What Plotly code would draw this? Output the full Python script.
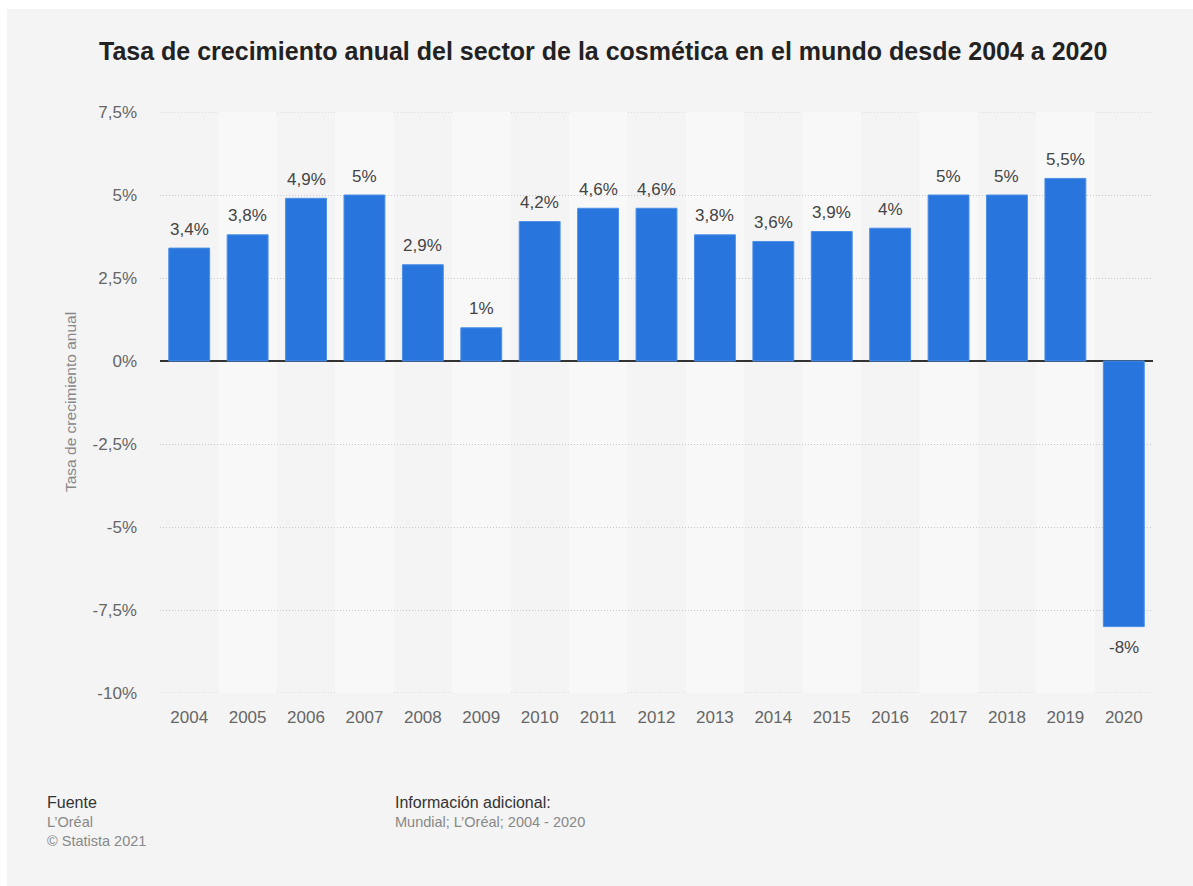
import plotly.graph_objects as go

years = ["2004", "2005", "2006", "2007", "2008", "2009", "2010", "2011", "2012",
         "2013", "2014", "2015", "2016", "2017", "2018", "2019", "2020"]
growth = [3.4, 3.8, 4.9, 5.0, 2.9, 1.0, 4.2, 4.6, 4.6, 3.8, 3.6, 3.9, 4.0, 5.0, 5.0, 5.5, -8.0]
y_tickvals = [-10, -7.5, -5, -2.5, 0, 2.5, 5, 7.5]
y_ticktext = ["-10%", "-7,5%", "-5%", "-2,5%", "0%", "2,5%", "5%", "7,5%"]
Y_MIN, Y_MAX = -10, 7.5

def fmt(v):
    s = ("%g" % v).replace(".", ",")
    return s + "%"

W, H = 1193, 886
L, R, T, B = 160, 40, 112, 193
pw, ph = W - L - R, H - T - B

def px_x(x):
    return (x - L) / pw

def px_y(y):
    return (H - B - y) / ph

FONT = "Liberation Sans, Arial, Helvetica, sans-serif"
GRID_DASH = "1px,2px"

fig = go.Figure()
fig.add_trace(go.Bar(
    x=list(range(len(years))), y=growth,
    marker=dict(color="#2876dd", line=dict(color="#4d8fe6", width=1)),
    hoverinfo="skip",
))

shapes = [dict(type="rect", xref="paper", yref="paper",
               x0=px_x(7), x1=px_x(W + 5), y0=px_y(H + 5), y1=px_y(9),
               fillcolor="#f4f4f4", line=dict(width=0), layer="below")]
for i in range(len(years)):
    if i % 2 == 1:
        shapes.append(dict(type="rect", xref="x", yref="y",
                           x0=i - 0.5, x1=i + 0.5, y0=Y_MIN, y1=Y_MAX,
                           fillcolor="#f8f8f8", line=dict(width=0), layer="below"))
# edge gridlines (Plotly omits them at the range limits)
for yv in (Y_MIN, Y_MAX):
    shapes.append(dict(type="line", xref="paper", yref="y", x0=0, x1=1, y0=yv, y1=yv,
                       line=dict(color="#c8c8c8", width=1, dash=GRID_DASH), layer="between"))

annotations = []
for i, v in enumerate(growth):
    annotations.append(dict(x=i, y=v, xref="x", yref="y", text=fmt(v),
                            showarrow=False, yanchor="middle",
                            yshift=19 if v >= 0 else -21,
                            font=dict(family=FONT, size=17, color="#444444")))

annotations += [
    dict(x=px_x(603), y=px_y(51), xref="paper", yref="paper",
         text="<b>Tasa de crecimiento anual del sector de la cosmética en el mundo desde 2004 a 2020</b>",
         showarrow=False, xanchor="center", yanchor="middle",
         font=dict(family=FONT, size=25, color="#222222")),
    dict(x=px_x(70), y=px_y(402), xref="paper", yref="paper",
         text="Tasa de crecimiento anual", textangle=-90,
         showarrow=False, xanchor="center", yanchor="middle",
         font=dict(family=FONT, size=15.5, color="#888888")),
    dict(x=px_x(45), y=px_y(802), xref="paper", yref="paper", text="Fuente",
         showarrow=False, xanchor="left", yanchor="middle",
         font=dict(family=FONT, size=16, color="#333333")),
    dict(x=px_x(45), y=px_y(822), xref="paper", yref="paper", text="L’Oréal",
         showarrow=False, xanchor="left", yanchor="middle",
         font=dict(family=FONT, size=14.5, color="#888888")),
    dict(x=px_x(45), y=px_y(841), xref="paper", yref="paper", text="© Statista 2021",
         showarrow=False, xanchor="left", yanchor="middle",
         font=dict(family=FONT, size=14.5, color="#888888")),
    dict(x=px_x(393), y=px_y(802), xref="paper", yref="paper", text="Información adicional:",
         showarrow=False, xanchor="left", yanchor="middle",
         font=dict(family=FONT, size=16, color="#333333")),
    dict(x=px_x(393), y=px_y(822), xref="paper", yref="paper", text="Mundial; L’Oréal; 2004 - 2020",
         showarrow=False, xanchor="left", yanchor="middle",
         font=dict(family=FONT, size=14.5, color="#888888")),
]

fig.update_layout(
    width=W, height=H,
    margin=dict(l=L, r=R, t=T, b=B, pad=0),
    paper_bgcolor="#ffffff", plot_bgcolor="rgba(0,0,0,0)",
    bargap=0.3, showlegend=False,
    shapes=shapes, annotations=annotations,
    xaxis=dict(range=[-0.5, len(years) - 0.5], tickvals=list(range(len(years))),
               ticktext=years, showgrid=False, zeroline=False, showline=False,
               ticks="", ticklabelstandoff=12,
               tickfont=dict(family=FONT, size=17, color="#666666")),
    yaxis=dict(range=[Y_MIN, Y_MAX], tickvals=y_tickvals, ticktext=y_ticktext,
               showgrid=True, gridcolor="#c8c8c8", griddash=GRID_DASH, gridwidth=1,
               zeroline=True, zerolinecolor="#333333", zerolinewidth=2,
               showline=False, ticks="", ticklabelstandoff=22,
               tickfont=dict(family=FONT, size=17, color="#666666")),
    font=dict(family=FONT),
)

fig.write_html("out.html")
